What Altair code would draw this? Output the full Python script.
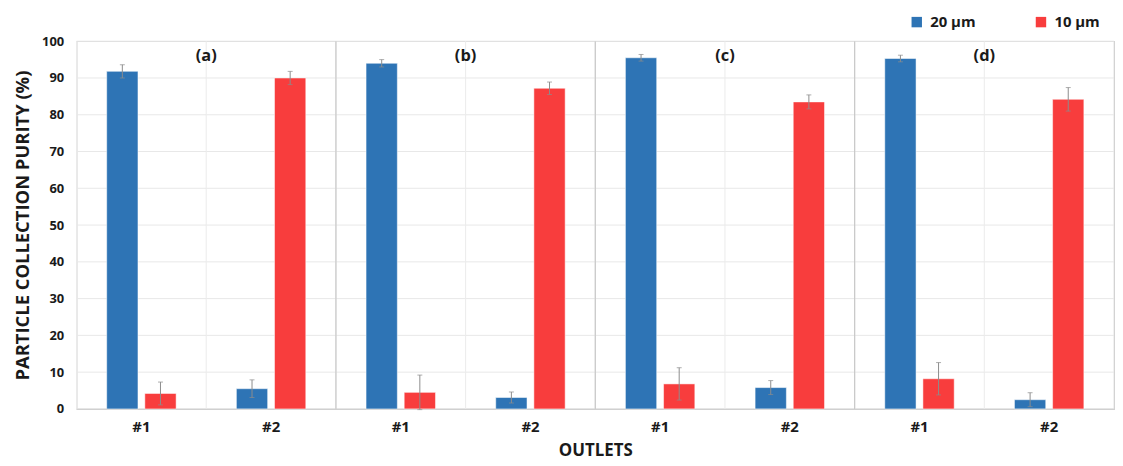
import altair as alt
import pandas as pd

panels = ["a", "b", "c", "d"]
panel_labels = ["(a)", "(b)", "(c)", "(d)"]
outlets = ["#1", "#2"]
sizes = ["20 µm", "10 µm"]

# order: a#1, a#2, b#1, b#2, c#1, c#2, d#1, d#2
purity_20 = [91.8, 5.5, 94.0, 3.1, 95.5, 5.8, 95.3, 2.5]
purity_10 = [4.2, 90.0, 4.5, 87.2, 6.8, 83.5, 8.2, 84.2]
err_20 = [1.8, 2.4, 1.0, 1.5, 0.9, 1.9, 0.9, 1.9]
err_10 = [3.1, 1.8, 4.7, 1.7, 4.4, 1.9, 4.4, 3.2]
y_ticks = [0, 10, 20, 30, 40, 50, 60, 70, 80, 90, 100]

keys = [f"{p}|{o}" for p in panels for o in outlets]

rows = []
for i, k in enumerate(keys):
    rows.append(dict(key=k, size=sizes[0], value=purity_20[i],
                     lo=purity_20[i] - err_20[i], hi=purity_20[i] + err_20[i]))
    rows.append(dict(key=k, size=sizes[1], value=purity_10[i],
                     lo=purity_10[i] - err_10[i], hi=purity_10[i] + err_10[i]))
df = pd.DataFrame(rows)

grid_df = pd.DataFrame({"key": keys})
sep_df = pd.DataFrame({"key": [f"{p}|#1" for p in panels[1:]]})
lab_df = pd.DataFrame({"key": [f"{p}|#2" for p in panels], "label": panel_labels})
ytick_df = pd.DataFrame({"v": y_ticks})

FONT = "Open Sans"
W, H = 1044, 370

x_scale = alt.Scale(domain=keys, paddingInner=0, paddingOuter=0)
y_scale = alt.Scale(domain=[0, 100], nice=False)
xoff_scale = alt.Scale(domain=sizes, paddingInner=0.18, paddingOuter=0.79)
color_scale = alt.Scale(domain=sizes, range=["#2E74B5", "#F83D3D"])

x_axis = alt.Axis(title="OUTLETS", labelExpr="split(datum.label, '|')[1]",
                  labelAngle=0, ticks=False, grid=False, domainColor="#BFBFBF",
                  labelFont=FONT, labelFontSize=15, labelFontWeight="bold",
                  labelColor="#1a1a1a", labelPadding=11,
                  titleFont=FONT, titleFontSize=17, titleFontWeight="bold",
                  titleColor="#1a1a1a", titlePadding=8)
y_axis = alt.Axis(title="PARTICLE COLLECTION PURITY (%)",
                  values=y_ticks, tickCount=len(y_ticks) + 1, ticks=False,
                  domain=False, grid=False,
                  labelOverlap=False, labelFont=FONT, labelFontSize=13,
                  labelFontWeight="bold", labelColor="#1a1a1a", labelPadding=13,
                  titleFont=FONT, titleFontSize=18.5, titleFontWeight="bold",
                  titleColor="#1a1a1a", titlePadding=9)

base_x = alt.X("key:N", scale=x_scale, sort=keys, axis=x_axis)
off = alt.XOffset("size:N", scale=xoff_scale, sort=sizes)

# horizontal gridlines at every tick value (drawn through the y scale)
hgrid = alt.Chart(ytick_df).mark_rule(color="#E8E8E8", strokeWidth=1).encode(
    y=alt.Y("v:Q", scale=y_scale, axis=y_axis)
)
grid = alt.Chart(grid_df).mark_rule(color="#EBEBEB", strokeWidth=1).encode(
    x=alt.X("key:N", scale=x_scale, sort=keys, bandPosition=0, axis=x_axis)
)
seps = alt.Chart(sep_df).mark_rule(color="#C8C8C8", strokeWidth=1.2).encode(
    x=alt.X("key:N", scale=x_scale, sort=keys, bandPosition=0, axis=x_axis)
)

bars = alt.Chart(df).mark_bar(stroke="#ffffff", strokeOpacity=0.5, strokeWidth=1).encode(
    x=base_x,
    xOffset=off,
    y=alt.Y("value:Q", scale=y_scale, axis=y_axis),
    color=alt.Color("size:N", scale=color_scale, sort=sizes,
                    legend=alt.Legend(orient="none", legendX=838, legendY=-27,
                                      direction="horizontal", title=None,
                                      symbolType="square", symbolSize=110,
                                      symbolStrokeWidth=0, labelFont=FONT,
                                      labelFontSize=15, labelFontWeight="bold",
                                      labelColor="#1a1a1a", labelOffset=6,
                                      columnPadding=58, padding=0)),
)

err = alt.Chart(df).mark_rule(color="#8C8C8C", strokeWidth=1).encode(
    x=base_x,
    xOffset=off,
    y=alt.Y("lo:Q", scale=y_scale, axis=y_axis),
    y2="hi:Q",
)
cap_hi = alt.Chart(df).mark_tick(color="#8C8C8C", thickness=1, size=5).encode(
    x=base_x,
    xOffset=off,
    y=alt.Y("hi:Q", scale=y_scale, axis=y_axis),
)
cap_lo = alt.Chart(df).mark_tick(color="#8C8C8C", thickness=1, size=5).encode(
    x=base_x,
    xOffset=off,
    y=alt.Y("lo:Q", scale=y_scale, axis=y_axis),
)

labels = alt.Chart(lab_df).mark_text(font=FONT, fontSize=16.5, fontWeight="bold",
                                     color="#1a1a1a", baseline="middle").encode(
    x=alt.X("key:N", scale=x_scale, sort=keys, bandPosition=0, axis=x_axis),
    y=alt.value(15),
    text="label:N",
)

chart = alt.layer(hgrid, grid, seps, bars, err, cap_hi, cap_lo, labels).properties(
    width=W, height=H,
    padding={"left": 5, "top": 5, "right": 0, "bottom": 2},
).configure_view(stroke="#CFCFCF", strokeWidth=1.2)

chart.save("out.html", embed_options={"renderer": "svg", "actions": False})
